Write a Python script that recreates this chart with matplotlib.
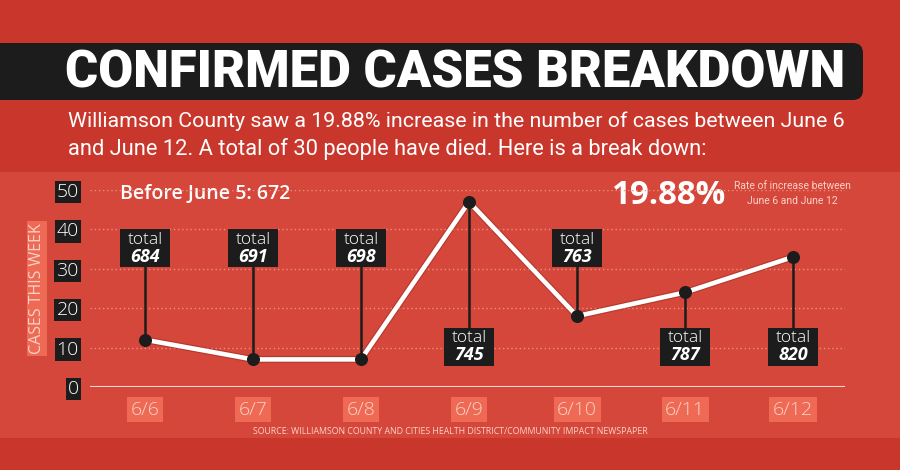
import matplotlib
matplotlib.use("Agg")
import matplotlib.pyplot as plt
from matplotlib.patches import Rectangle, FancyBboxPatch
import numpy as np

dates = ["6/6", "6/7", "6/8", "6/9", "6/10", "6/11", "6/12"]
new_cases = [12, 7, 7, 47, 18, 24, 33]
totals = [684, 691, 698, 745, 763, 787, 820]
before_june5 = 672
pct_increase = "19.88%"

# which side of the line each "total" box sits on
box_above = [True, True, True, False, True, False, False]

BG = "#c9372c"
PANEL = "#d6473b"
SALMON = "#ee6a55"
PALE = "#fbd2c8"
BLACK = "#1c1c1c"

narrow = ["Roboto", "DejaVu Sans"]
body = ["Open Sans", "DejaVu Sans"]

fig = plt.figure(figsize=(9, 4.7), dpi=100)
fig.patch.set_facecolor(BG)

# background / decoration layer in pixel coordinates
bg = fig.add_axes([0, 0, 1, 1])
bg.set_xlim(0, 900)
bg.set_ylim(470, 0)
bg.axis("off")
bg.add_patch(Rectangle((0, 172), 900, 266, facecolor=PANEL, edgecolor="none"))
bg.add_patch(FancyBboxPatch((-20, 43), 883, 57, boxstyle="round,pad=0,rounding_size=10",
                            facecolor=BLACK, edgecolor="none"))
title = bg.text(455, 73, "CONFIRMED CASES BREAKDOWN", color="white", fontsize=40,
                fontweight="black", family=narrow, ha="center", va="center")
sub1 = bg.text(68, 121, "Williamson County saw a 19.88% increase in the number of cases between June 6",
               color="white", fontsize=15, family=narrow, ha="left", va="center")
sub2 = bg.text(68, 149, "and June 12. A total of 30 people have died. Here is a break down:",
               color="white", fontsize=15, family=narrow, ha="left", va="center")
bg.text(120, 194, f"Before June 5: {before_june5}", color="white", fontsize=14,
        fontweight="semibold", family=body, ha="left", va="center")
pct = bg.text(668, 195, pct_increase, color="white", fontsize=23, fontweight="bold",
              family=body, ha="center", va="center")
bg.text(792, 186, "Rate of increase between", color=PALE, fontsize=7.5,
        family=narrow, ha="center", va="center")
bg.text(792, 201, "June 6 and June 12", color=PALE, fontsize=7.5,
        family=narrow, ha="center", va="center")
bg.text(450, 432, "SOURCE: WILLIAMSON COUNTY AND CITIES HEALTH DISTRICT/COMMUNITY IMPACT NEWSPAPER",
        color=PALE, fontsize=6.3, family=body, ha="center", va="center")

# squeeze the wide headline texts to the widths they have in the graphic
renderer = fig.canvas.get_renderer()
for txt, target in [(title, 780), (sub1, 777), (sub2, 640), (pct, 115)]:
    w = txt.get_window_extent(renderer).width
    txt.set_fontsize(txt.get_fontsize() * target / w)

# chart
ax = fig.add_axes([90 / 900, 83 / 470, 755 / 900, 197 / 470])
ax.patch.set_alpha(0)
x = np.arange(len(dates))
ax.set_xlim(-0.509, 6.481)
ax.set_ylim(0, 50)
for s in ax.spines.values():
    s.set_visible(False)
ax.axhline(0, color="#f7d6cf", lw=1.5, zorder=1)
for yv in range(10, 60, 10):
    ax.axhline(yv, color="#ec8d80", lw=1, ls=(0, (1, 2)), zorder=1)

ax.set_yticks(range(0, 60, 10))
ax.set_yticklabels([str(v) for v in range(0, 60, 10)])
ax.tick_params(axis="y", length=0, pad=8, labelsize=14, labelcolor="white")
for t in ax.get_yticklabels():
    t.set_family(body)
    t.set_fontweight("light")
    t.set_bbox(dict(facecolor=BLACK, edgecolor="none", pad=1.5))

ax.set_xticks(x)
ax.set_xticklabels(dates)
ax.tick_params(axis="x", length=0, pad=10, labelsize=14, labelcolor=PALE)
for t in ax.get_xticklabels():
    t.set_family(body)
    t.set_fontweight("light")
    t.set_bbox(dict(facecolor=SALMON, edgecolor="none", pad=2.5))

ax.set_ylabel("CASES THIS WEEK", color=PALE, fontsize=11.5, family=body,
              bbox=dict(facecolor=SALMON, edgecolor="none", pad=1.5))
ax.yaxis.set_label_coords(-0.06, 0.5)

ax.plot(x, new_cases, color="#7a1c14", lw=5, alpha=0.35, zorder=2)
ax.plot(x, new_cases, color="white", lw=3.3, zorder=3, solid_capstyle="round")

bw, bh = 0.46, 9.7
for xi, yi, tot, up in zip(x, new_cases, totals, box_above):
    cy = 35.2 if up else 10.2
    ax.plot([xi, xi], [yi, cy], color=BLACK, lw=1.8, zorder=4)
    ax.add_patch(Rectangle((xi - bw / 2, cy - bh / 2), bw, bh, facecolor=BLACK,
                           edgecolor="none", zorder=5))
    ax.text(xi, cy + 2.2, "total", color="white", fontsize=12.5, family=body,
            fontweight="light", ha="center", va="center", zorder=6)
    ax.text(xi, cy - 2.1, str(tot), color="white", fontsize=13, family=body,
            fontweight="bold", style="italic", ha="center", va="center", zorder=6)
ax.scatter(x, new_cases, s=70, color=BLACK, zorder=6)

fig.savefig("out.png", dpi=100, facecolor=fig.get_facecolor())
